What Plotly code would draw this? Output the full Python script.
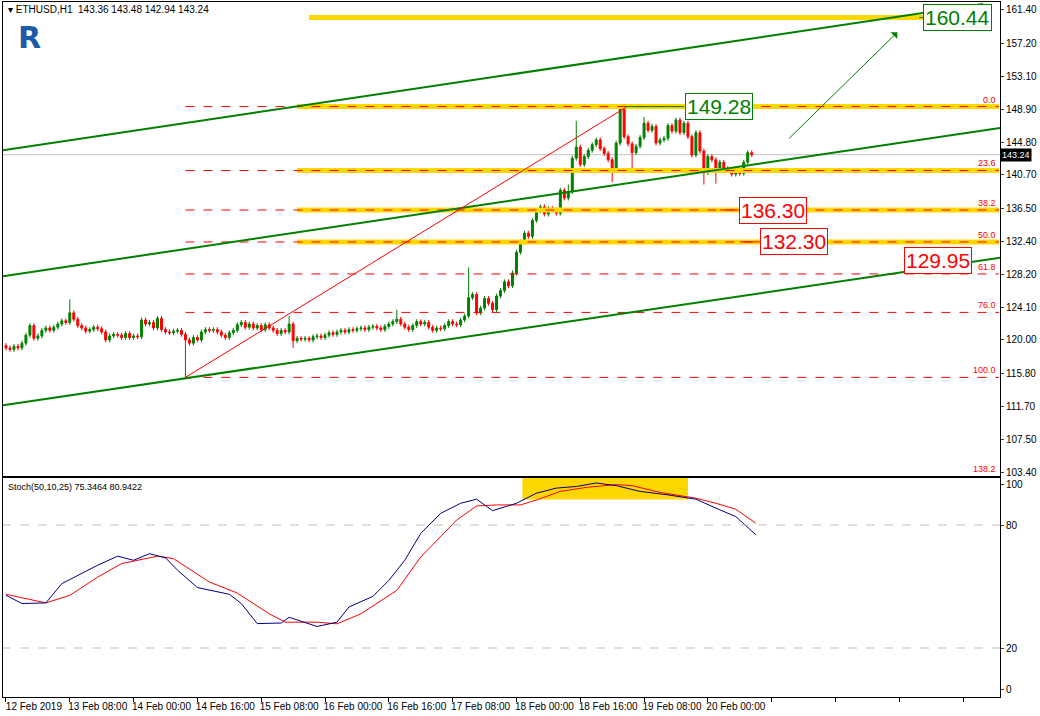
import plotly.graph_objects as go

# hourly closes, bar 0 = 12 Feb 16:00
closes = [
  119.0,118.8,119.2,119.0,119.6,120.6,121.8,120.2,120.5,121.2,121.5,121.2,121.6,122.0,122.4,122.2,
  123.4,122.6,121.8,121.5,121.1,121.3,121.6,121.4,121.0,120.0,120.5,120.7,120.6,120.3,120.8,120.3,
  120.5,120.4,122.5,122.0,122.2,121.5,122.7,121.3,121.0,120.9,121.1,121.2,120.7,120.0,119.6,120.3,
  120.0,121.0,121.3,121.2,121.3,121.0,120.6,120.3,120.9,121.2,121.9,122.2,121.6,122.0,121.5,121.8,
  121.3,121.9,121.5,121.2,120.8,121.2,121.0,122.0,119.9,120.2,120.1,120.2,120.0,120.4,120.5,120.3,
  120.6,120.9,120.7,121.0,121.2,121.0,121.3,121.2,121.4,121.5,121.3,121.6,121.7,121.5,121.3,121.7,
  122.0,122.3,122.6,122.0,121.6,121.3,121.8,122.3,122.0,122.2,121.6,121.2,121.5,121.4,121.8,122.3,
  122.0,121.9,122.5,123.0,125.3,125.7,123.4,124.0,125.2,124.6,123.8,125.5,126.2,127.3,126.8,128.4,
  131.0,132.3,133.4,133.0,135.0,136.2,136.7,135.8,136.5,136.3,135.9,138.8,137.8,138.6,142.8,144.2,
  142.0,143.0,143.8,144.5,145.1,144.0,143.4,142.6,141.3,144.7,148.9,145.5,144.6,143.5,144.3,145.4,
  147.2,146.3,146.8,144.7,145.1,145.3,146.9,146.2,147.6,146.0,147.2,145.5,143.2,146.0,143.7,141.0,
  143.0,142.6,141.3,142.3,141.5,141.3,140.8,141.0,140.9,142.3,143.5,143.24]
first_open = 119.3
high_marks = {16: 125.1, 71: 123.0, 98: 123.8, 116: 129.1, 141: 139.5, 143: 147.5, 154: 149.28, 160: 148.0}
low_marks = {45: 115.3, 72: 119.0, 152: 139.8, 175: 139.5, 178: 139.6, 157: 141.0}

tick_labels = ["12 Feb 2019","13 Feb 08:00","14 Feb 00:00","14 Feb 16:00","15 Feb 08:00",
               "16 Feb 00:00","16 Feb 16:00","17 Feb 08:00","18 Feb 00:00","18 Feb 16:00",
               "19 Feb 08:00","20 Feb 00:00"]
price_ticks = [161.40,157.20,153.10,148.90,144.80,140.70,136.50,132.40,128.20,124.10,120.00,
               115.80,111.70,107.50,103.40]

stoch_main_x = [0,4,10,14,23,28,32,36,40,43,48,56,59,63,69,71,78,83,86,92,96,100,104,109,114,
                118,122,128,133,138,143,148,153,159,166,173,179,183,188]
stoch_main_y = [45.7,41.7,42,51.4,60.4,64.8,62.8,66,64,58,49.5,46.2,41.7,31.9,32.2,35,30.5,32.6,
                40,45.2,53,62.8,75.9,85.7,90.6,92.6,87,90.6,95.5,98,98.8,100.5,99.2,96.4,94.7,
                92.6,87.4,84.1,75.3]
stoch_sig_x = [0,10,16,23,29,38,42,51,58,66,70,78,83,89,98,104,113,118,123,129,133,139,146,153,
               157,164,173,178,183,188]
stoch_sig_y = [46.2,42,45.7,54.6,61.2,64.8,63.6,52.2,46.8,36.7,32.6,32.6,31.8,36.7,48.1,64.4,
               82.4,89.3,89.8,89.8,92.2,96.4,98.5,99.7,99.2,95.9,93.1,90.6,87.7,80.9]

fib_top, fib_bottom = 149.28, 115.3
fib_levels = [0.0, 23.6, 38.2, 50.0, 61.8, 76.0, 100.0]
yellow_levels = [149.28, 141.26, 136.30, 132.29]
boxes = [("149.28", 178.75, 149.28, "green"), ("160.44", 238.5, 160.44, "green"),
         ("136.30", 192.25, 136.30, "red"), ("132.30", 197.5, 132.30, "red"),
         ("129.95", 233.75, 129.95, "red")]

opens = [first_open] + closes[:-1]
highs, lows = [], []
for i, (o, c) in enumerate(zip(opens, closes)):
    highs.append(high_marks.get(i, max(o, c) + 0.3))
    lows.append(low_marks.get(i, min(o, c) - 0.3))
bars = list(range(len(closes)))

fig = go.Figure()
fig.add_trace(go.Candlestick(x=bars, open=opens, high=highs, low=lows, close=closes,
    increasing=dict(line=dict(color="#008000", width=1), fillcolor="#008000"),
    decreasing=dict(line=dict(color="#ff0000", width=1), fillcolor="#ff0000"),
    whiskerwidth=0, showlegend=False, hoverinfo="skip", xaxis="x", yaxis="y"))
fig.add_trace(go.Scatter(x=stoch_sig_x, y=stoch_sig_y, mode="lines", line=dict(color="#ff0000", width=1),
                         showlegend=False, xaxis="x2", yaxis="y2"))
fig.add_trace(go.Scatter(x=stoch_main_x, y=stoch_main_y, mode="lines", line=dict(color="#000080", width=1),
                         showlegend=False, xaxis="x2", yaxis="y2"))

shapes = []
def seg(x0, y0, x1, y1, color, width=1, dash="solid", ax="", layer="above"):
    shapes.append(dict(type="line", xref="x" + ax, yref="y" + ax, x0=x0, y0=y0, x1=x1, y1=y1,
                       line=dict(color=color, width=width, dash=dash), layer=layer))

# yellow bands
seg(76, 160.44, 232, 160.44, "#ffd700", 5)
for lv in yellow_levels:
    seg(73, lv, 249, lv, "#ffd700", 5)
# fib dotted lines
ann = []
for f in fib_levels:
    p = fib_top - (fib_top - fib_bottom) * f / 100
    seg(45, p, 249, p, "#ff0000", 1, "dash")
    ann.append(dict(x=248.7, y=p, xref="x", yref="y", text="%.1f" % f, showarrow=False,
                    xanchor="right", yanchor="bottom", font=dict(size=9, color="#ff0000")))
ann.append(dict(x=248.7, y=102.95, xref="x", yref="y", text="138.2", showarrow=False,
                xanchor="right", yanchor="bottom", font=dict(size=9, color="#ff0000")))
# current price line
seg(-1, 143.24, 249.25, 143.24, "#c0c0c0", 1, layer="below")
# channel
seg(-0.75, 143.8, 245, 162.15, "#008000", 2)
seg(-0.75, 128.0, 249.25, 146.6, "#008000", 2)
seg(-0.75, 111.8, 249.25, 130.3, "#008000", 2)
# red diagonal
seg(45, 115.3, 155.5, 149.2, "#ff0000", 1)
# leaders
seg(155.5, 149.28, 170, 149.28, "#008000", 1)
seg(229, 160.44, 232, 160.44, "#008000", 1)
seg(179, 136.3, 184, 136.3, "#ff0000", 1)
seg(184, 132.3, 189, 132.3, "#ff0000", 1)
# stoch levels and highlight
shapes.append(dict(type="rect", xref="x2", yref="y2", x0=129.5, x1=171, y0=92.5, y1=102.9,
                   fillcolor="#ffd700", line=dict(width=0), layer="below"))
seg(-1, 80, 249.25, 80, "#c0c0c0", 1, "dash", "2")
seg(-1, 20, 249.25, 20, "#c0c0c0", 1, "dash", "2")

for t, x, y, c in boxes:
    ann.append(dict(x=x, y=y, xref="x", yref="y", text=t, showarrow=False, bgcolor="white",
                    bordercolor=c, borderwidth=1, borderpad=1,
                    font=dict(size=21, color=c, family="Liberation Sans")))
# arrow
ann.append(dict(x=223.5, y=158.6, ax=196, ay=145.1, xref="x", yref="y", axref="x", ayref="y",
                text="", showarrow=True, arrowhead=1, arrowsize=1.6, arrowwidth=1, arrowcolor="#008000"))
ann.append(dict(x=0.003, y=1.0, xref="paper", yref="paper", xanchor="left", yanchor="top",
                text="▾ ETHUSD,H1  143.36 143.48 142.94 143.24", showarrow=False,
                font=dict(size=10, color="black")))
ann.append(dict(x=2.5, y=157.9, xref="x", yref="y", xanchor="left", yanchor="middle",
                text="<b>R</b>", showarrow=False, font=dict(size=30, color="#1d5ba6", family="DejaVu Sans")))
ann.append(dict(x=0.003, y=0.312, xref="paper", yref="paper", xanchor="left", yanchor="top",
                text="Stoch(50,10,25) 75.3464 80.9422", showarrow=False, font=dict(size=9, color="black")))
ann.append(dict(x=1.0, y=143.24, xref="paper", yref="y", xanchor="left", yanchor="middle",
                text="143.24", showarrow=False, bgcolor="black", font=dict(size=9, color="white")))

axis_common = dict(showgrid=False, zeroline=False, showline=True, linecolor="black", mirror=True)
fig.update_layout(
    width=1040, height=716, paper_bgcolor="white", plot_bgcolor="white",
    margin=dict(l=3, r=40, t=2, b=19), shapes=shapes, annotations=ann,
    font=dict(family="Liberation Sans", size=10, color="black"),
    xaxis=dict(domain=[0, 1], range=[-0.75, 249.25], anchor="y", showticklabels=False,
               rangeslider=dict(visible=False), **axis_common),
    yaxis=dict(domain=[0.318, 1], range=[102.93, 162.4], side="right", tickvals=price_ticks,
               ticktext=["%.2f" % v for v in price_ticks], ticks="outside", ticklen=3, **axis_common),
    xaxis2=dict(domain=[0, 1], range=[-0.75, 249.25], anchor="y2", matches="x",
                tickvals=[7 + 16 * k for k in range(len(tick_labels))], ticktext=tick_labels, ticks="",
                minor=dict(tick0=0, dtick=16, ticks="outside", ticklen=4, tickcolor="black"), **axis_common),
    yaxis2=dict(domain=[0, 0.315], range=[-3.9, 102.9], side="right", tickvals=[0, 20, 80, 100],
                ticks="outside", ticklen=3, anchor="x2", **axis_common),
)
fig.write_html("out.html", config={"displayModeBar": False},
               post_script="document.body.style.margin='0';")
